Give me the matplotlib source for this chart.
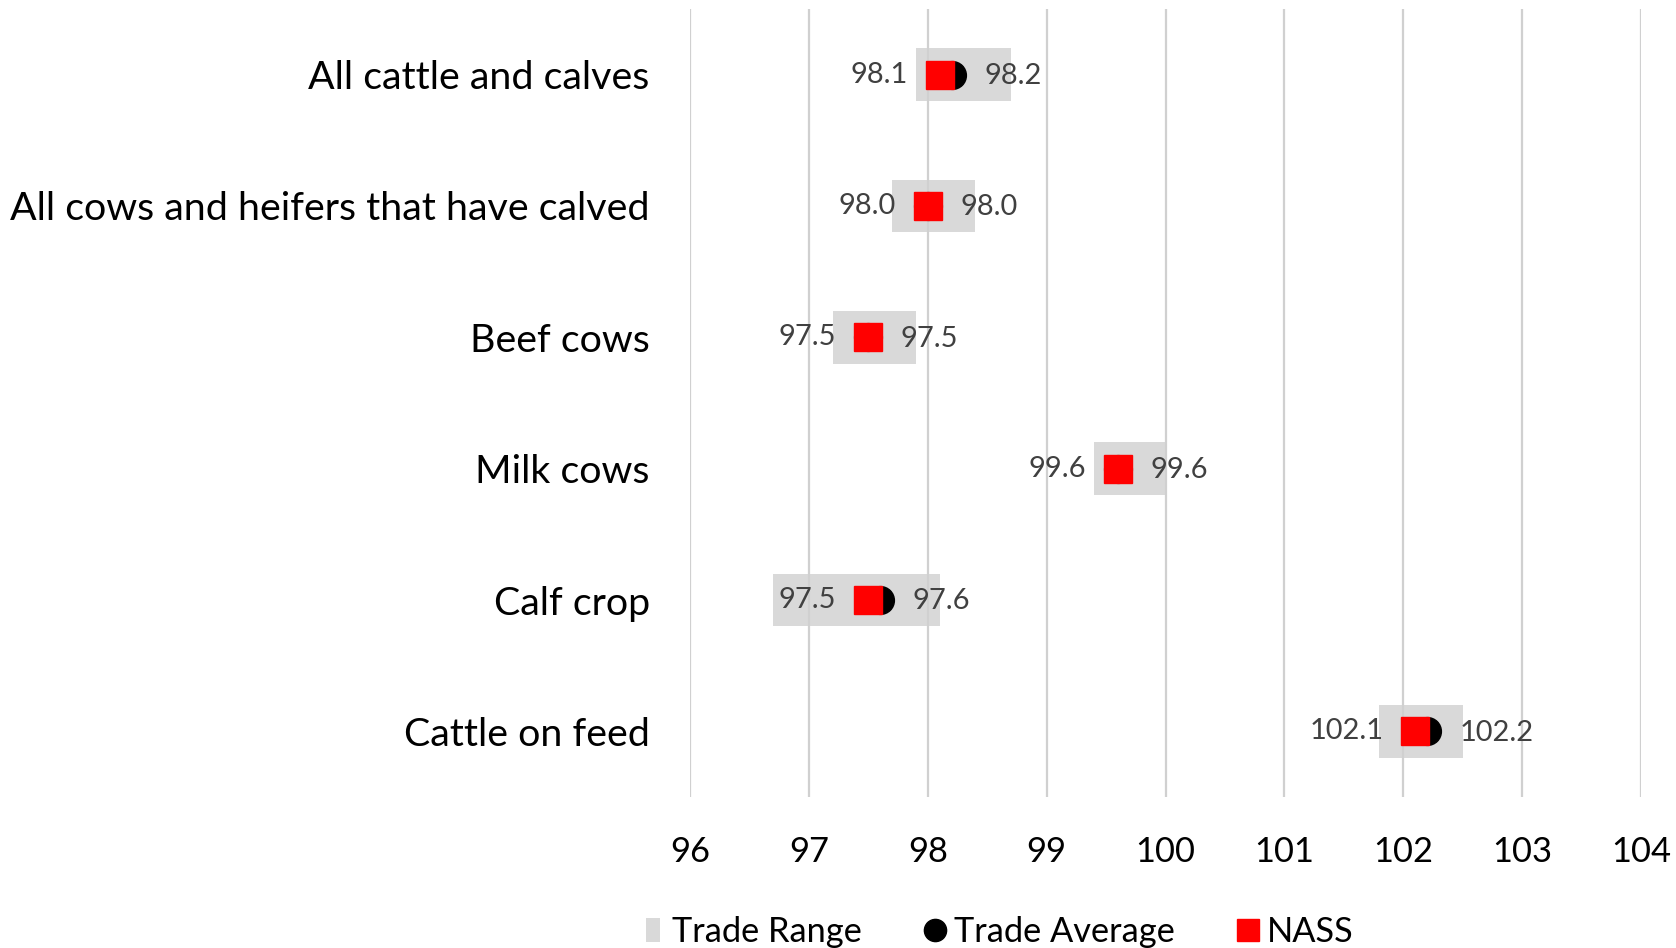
import matplotlib
matplotlib.use("Agg")
import matplotlib.pyplot as plt
from matplotlib.lines import Line2D
import numpy as np

categories = ["All cattle and calves", "All cows and heifers that have calved",
              "Beef cows", "Milk cows", "Calf crop", "Cattle on feed"]
range_low = [97.9, 97.7, 97.2, 99.4, 96.7, 101.8]
range_high = [98.7, 98.4, 97.9, 100.0, 98.1, 102.5]
trade_avg = [98.2, 98.0, 97.5, 99.6, 97.6, 102.2]
nass = [98.1, 98.0, 97.5, 99.6, 97.5, 102.1]
xticks = [96, 97, 98, 99, 100, 101, 102, 103, 104]

FONT = "Lato"
plt.rcParams['font.family'] = [FONT, 'DejaVu Sans']

W, H, DPI = 16.76, 9.48, 100
fig = plt.figure(figsize=(W, H), dpi=DPI)
renderer = fig.canvas.get_renderer()


def fit_size(text, target_px, base=30):
    t = fig.text(0, 0, text, fontsize=base, family=[FONT, 'DejaVu Sans'])
    w = t.get_window_extent(renderer=renderer).width
    t.remove()
    return base * target_px / w


cat_fs = fit_size("All cows and heifers that have calved", 640)
tick_fs = fit_size("104", 60)
lab_fs = fit_size("102.2", 74)
leg_fs = fit_size("Trade Range", 190)

ax = fig.add_axes([690 / 1676, 1 - 797 / 948, (1641 - 690) / 1676, (797 - 9) / 948])

y = np.arange(len(categories))
widths = np.array(range_high) - np.array(range_low)
ax.barh(y, widths, left=range_low, height=0.4, color="#D9D9D9", zorder=1)
ax.plot(trade_avg, y, linestyle="none", marker="o", markersize=20,
        color="black", zorder=3)
ax.plot(nass, y, linestyle="none", marker="s", markersize=20,
        color="#FF0000", zorder=4)

for yi, n, a in zip(y, nass, trade_avg):
    ax.annotate(f"{n:.1f}", (n, yi), xytext=(-23, 0), textcoords="offset points",
                ha="right", va="center", fontsize=lab_fs, color="#404040", zorder=5)
    ax.annotate(f"{a:.1f}", (a, yi), xytext=(23.5, -1), textcoords="offset points",
                ha="left", va="center", fontsize=lab_fs, color="#404040", zorder=5)

ax.set_xlim(96, 104)
ax.set_ylim(len(categories) - 0.5, -0.5)
ax.set_xticks(xticks)
ax.set_xticklabels([str(t) for t in xticks], fontsize=tick_fs)
ax.set_yticks(y)
ax.set_yticklabels(categories, fontsize=cat_fs)
ax.tick_params(axis="both", length=0)
ax.tick_params(axis="y", pad=29)
ax.tick_params(axis="x", pad=28)
for s in ax.spines.values():
    s.set_visible(False)
ax.set_axisbelow("line")
ax.xaxis.grid(True, color="#D0D0D0", linewidth=1.6)
ax.yaxis.grid(False)

rect_marker = [(-0.3, -0.5), (0.3, -0.5), (0.3, 0.5), (-0.3, 0.5), (-0.3, -0.5)]
handles = [
    Line2D([], [], linestyle="none", marker=rect_marker, markersize=17,
           color="#D9D9D9", markeredgewidth=0),
    Line2D([], [], linestyle="none", marker="o", markersize=16, color="black"),
    Line2D([], [], linestyle="none", marker="s", markersize=16, color="#FF0000"),
]
leg_px = leg_fs * DPI / 72
fig.legend(handles, ["Trade Range", "Trade Average", "NASS"], loc="center",
           bbox_to_anchor=(998 / 1676, 1 - 932 / 948), ncol=3, frameon=False,
           fontsize=leg_fs, handlelength=22 / leg_px, handletextpad=8 / leg_px,
           columnspacing=62 / leg_px, borderpad=0, borderaxespad=0)

fig.savefig("out.png", dpi=DPI)
